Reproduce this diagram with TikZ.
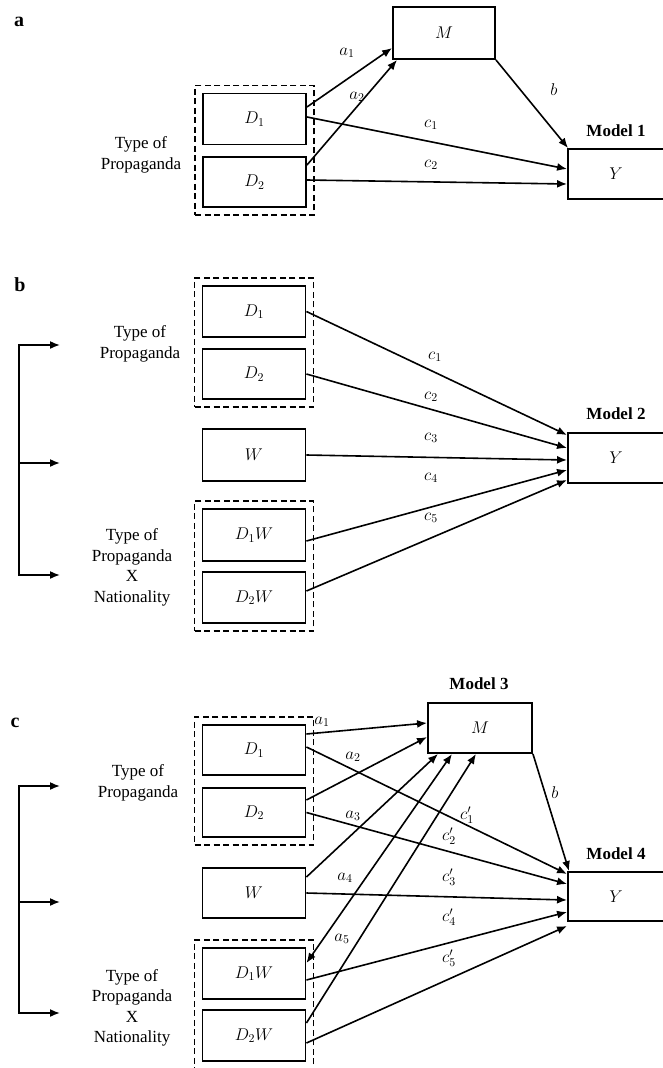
\RequirePackage{fix-cm}
\documentclass[tikz,border=0pt]{standalone}
\usepackage{fontspec}
\setmainfont{Liberation Serif}
\usetikzlibrary{arrows.meta,calc,fit}
\begin{document}
\begin{tikzpicture}[x=1pt,y=-1pt,
  box/.style={draw, line width=1.9pt, minimum width=103pt, minimum height=51pt, inner sep=0pt, font=\fontsize{17}{20}\selectfont},
  grp/.style={draw, line width=1.7pt, dash pattern=on 6pt off 3.5pt, inner sep=7pt},
  arr/.style={line width=1.6pt, -{Latex[length=10pt,width=8pt]}},
  darr/.style={line width=1.6pt, {Latex[length=10pt,width=8pt]}-{Latex[length=10pt,width=8pt]}},
  lab/.style={font=\fontsize{17}{20}\selectfont, inner sep=0pt},
  txt/.style={align=center, font=\fontsize{17}{20.5}\selectfont, inner sep=0pt},
  mdl/.style={font=\fontsize{17}{20}\selectfont\bfseries, inner sep=0pt},
  pan/.style={font=\fontsize{20}{24}\selectfont\bfseries, inner sep=0pt},
  brk/.style={line width=1.6pt, line cap=rect}]
\fill[white] (0,0) rectangle (663,1068);
\useasboundingbox (0,0) rectangle (663,1068);
\clip (0,0) rectangle (663,1068);

% ---------------- panel a ----------------
\node[pan] (pa) at (19,22) {a};
\node[box, minimum width=102pt, minimum height=52pt] (aM) at (444,33) {$M$};
\node[box] (aD1) at (254.5,119) {$D_1$};
\node[box, minimum height=50pt] (aD2) at (254.5,182) {$D_2$};
\node[box, minimum width=96pt, minimum height=50pt] (aY) at (616,174) {$Y$};
\node[grp, fit=(aD1)(aD2)] (aG) {};
\node[mdl] (aMod) at (616,131) {Model 1};
\node[txt] (aT) at (141,155) {Type of\\Propaganda};

\draw[arr] ([yshift=12pt]aD1.east) -- ([yshift=-15pt]aM.west);
\draw[arr] ([yshift=17pt]aD2.east) -- ([xshift=-47pt]aM.south);
\draw[arr] ([yshift=2pt]aD1.east) -- ([yshift=5pt]aY.west);
\draw[arr] ([yshift=2pt]aD2.east) -- ([yshift=-10pt]aY.west);
\draw[arr] (aM.south east) -- ([xshift=1pt]aY.north west);

\node[lab] (la1) at (347,53) {$a_1$};
\node[lab] (la2) at (357,97) {$a_2$};
\node[lab] (lab) at (554,90) {$b$};
\node[lab] (lac1) at (431,125) {$c_1$};
\node[lab] (lac2) at (431,165) {$c_2$};

% ---------------- panel b ----------------
\node[pan] (pb) at (20,285) {b};
\node[box] (bD1) at (254,311.5) {$D_1$};
\node[box, minimum height=50pt] (bD2) at (254,374) {$D_2$};
\node[box, minimum height=52pt] (bW) at (254,455) {$W$};
\node[box, minimum height=52pt] (bD1W) at (254,535) {$D_1W$};
\node[box] (bD2W) at (254,597.5) {$D_2W$};
\node[box, minimum width=96pt, minimum height=50pt] (bY) at (616,458) {$Y$};
\node[grp, fit=(bD1)(bD2)] (bG1) {};
\node[grp, fit=(bD1W)(bD2W)] (bG2) {};
\node[mdl] (bMod) at (616,414) {Model 2};
\node[txt] (bT1) at (140,344) {Type of\\Propaganda};
\node[txt] (bT2) at (132,567.5) {Type of\\Propaganda\\X\\Nationality};

\coordinate (bk1) at (19,345);
\coordinate (bk2) at (19,463);
\coordinate (bk3) at (19,575);
\coordinate (bt1) at (60,345);
\coordinate (bt2) at (60,463);
\coordinate (bt3) at (60,575);
\draw[brk] (bk1) -- (bk3);
\draw[arr] (bk1) -- (bt1);
\draw[arr] (bk2) -- (bt2);
\draw[arr] (bk3) -- (bt3);

\draw[arr] (bD1.east) -- ([yshift=23pt]bY.west);
\draw[arr] (bD2.east) -- ([yshift=10pt]bY.west);
\draw[arr] (bW.east) -- ([yshift=-2pt]bY.west);
\draw[arr] ([yshift=-6pt]bD1W.east) -- ([yshift=-12pt]bY.west);
\draw[arr] ([yshift=6.5pt]bD2W.east) -- ([yshift=-22pt]bY.west);

\node[lab] (lbc1) at (435,357) {$c_1$};
\node[lab] (lbc2) at (431,397) {$c_2$};
\node[lab] (lbc3) at (431,438) {$c_3$};
\node[lab] (lbc4) at (431,478) {$c_4$};
\node[lab] (lbc5) at (431,518) {$c_5$};

% ---------------- panel c ----------------
\node[pan] (pc) at (15,723) {c};
\node[mdl] (cMod3) at (479,684) {Model 3};
\node[box, minimum width=104pt, minimum height=50pt] (cM) at (480,728) {$M$};
\node[box, minimum height=50pt] (cD1) at (254,750) {$D_1$};
\node[box, minimum height=49pt] (cD2) at (254,812.5) {$D_2$};
\node[box, minimum height=50pt] (cW) at (254,893) {$W$};
\node[box] (cD1W) at (254,973.5) {$D_1W$};
\node[box] (cD2W) at (254,1035.5) {$D_2W$};
\node[box, minimum width=96pt, minimum height=49pt] (cY) at (616,896.5) {$Y$};
\node[grp, fit=(cD1)(cD2)] (cG1) {};
\node[grp, fit=(cD1W)(cD2W)] (cG2) {};
\node[mdl] (cMod4) at (616,854) {Model 4};
\node[txt] (cT1) at (138,783) {Type of\\Propaganda};
\node[txt] (cT2) at (132,1008) {Type of\\Propaganda\\X\\Nationality};

\coordinate (ck1) at (19,786);
\coordinate (ck2) at (19,902);
\coordinate (ck3) at (19,1013);
\coordinate (ct1) at (60,786);
\coordinate (ct2) at (60,902);
\coordinate (ct3) at (60,1013);
\draw[brk] (ck1) -- (ck3);
\draw[arr] (ck1) -- (ct1);
\draw[arr] (ck2) -- (ct2);
\draw[arr] (ck3) -- (ct3);

% to M
\draw[arr] ([yshift=16pt]cD1.east) -- ([yshift=5pt]cM.west);
\draw[arr] ([yshift=12.5pt]cD2.east) -- ([yshift=-9pt]cM.west);
\draw[arr] ([yshift=16pt]cW.east) -- ([xshift=-42pt]cM.south);
\draw[darr] ([yshift=10.5pt]cD1W.east) -- ([xshift=-28pt]cM.south);
\draw[arr] ([yshift=12.5pt]cD2W.east) -- ([xshift=-4pt]cM.south);
% to Y
\draw[arr] ([yshift=3pt]cD1.east) -- ([yshift=22.5pt]cY.west);
\draw[arr] (cD2.east) -- ([yshift=12.5pt]cY.west);
\draw[arr] (cW.east) -- ([yshift=-3.5pt]cY.west);
\draw[arr] ([yshift=-6.5pt]cD1W.east) -- ([yshift=-15.5pt]cY.west);
\draw[arr] ([yshift=-7.5pt]cD2W.east) -- ([yshift=-29.5pt]cY.west);
\draw[arr] (cM.south east) -- ([xshift=2pt]cY.north west);

\node[lab] (lca1) at (322,722) {$a_1$};
\node[lab] (lca2) at (353,757) {$a_2$};
\node[lab] (lca3) at (353,816) {$a_3$};
\node[lab] (lca4) at (345,878) {$a_4$};
\node[lab] (lca5) at (342,939) {$a_5$};
\node[lab] (lcb) at (555,793) {$b$};
\node[lab] (lcc1) at (467,815) {$c'_1$};
\node[lab] (lcc2) at (449,836) {$c'_2$};
\node[lab] (lcc3) at (449,877) {$c'_3$};
\node[lab] (lcc4) at (449,917) {$c'_4$};
\node[lab] (lcc5) at (449,958) {$c'_5$};
\end{tikzpicture}
\end{document}
